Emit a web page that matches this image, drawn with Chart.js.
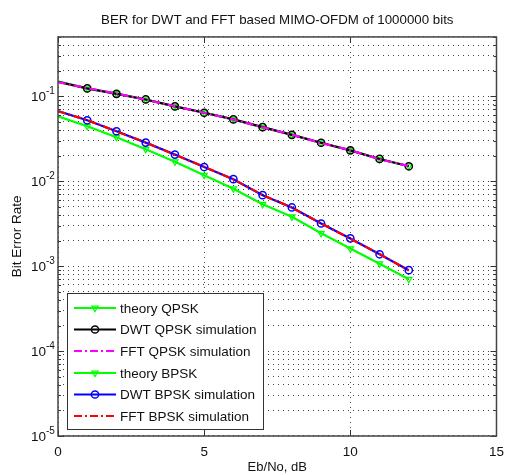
<!DOCTYPE html>
<html>
<head>
<meta charset="utf-8">
<script src="https://cdn.jsdelivr.net/npm/chart.js@4.4.0/dist/chart.umd.min.js"></script>
<style>
  body { margin: 0; background: #fff; }
  #wrap { width: 512px; height: 475px; }
</style>
</head>
<body>
<div id="wrap"><canvas id="berChart" width="512" height="475"></canvas></div>
<script>
// Eb/No points (dB) and BER values
let ebno = [0, 1, 2, 3, 4, 5, 6, 7, 8, 9, 10, 11, 12];
let theoryQpsk = [0.150, 0.123, 0.108, 0.0914, 0.0762, 0.0643, 0.0536, 0.0431, 0.0354, 0.0282, 0.0232, 0.0182, 0.0151];
let dwtQpsk = [0.148, 0.124, 0.107, 0.0918, 0.0760, 0.0640, 0.0535, 0.0433, 0.0352, 0.0284, 0.0231, 0.0183, 0.0150];
let fftQpsk = [0.147, 0.125, 0.108, 0.0912, 0.0765, 0.0641, 0.0533, 0.0430, 0.0355, 0.0281, 0.0233, 0.0181, 0.0151];
let theoryBpsk = [0.0582, 0.0444, 0.0330, 0.0238, 0.0170, 0.0118, 0.00817, 0.00536, 0.00382, 0.00244, 0.00161, 0.00107, 0.000703];
let dwtBpsk = [0.0672, 0.0522, 0.0388, 0.0285, 0.0206, 0.0147, 0.01057, 0.00685, 0.00491, 0.00318, 0.00212, 0.00138, 0.000897];
let fftBpsk = [0.0668, 0.0525, 0.0386, 0.0287, 0.0204, 0.0148, 0.0105, 0.0069, 0.00488, 0.0032, 0.0021, 0.00139, 0.00089];
let seriesNames = ["theory QPSK", "DWT QPSK simulation", "FFT QPSK simulation", "theory BPSK", "DWT BPSK simulation", "FFT BPSK simulation"];
let xTicks = [0, 5, 10, 15];
let yDecades = [-5, -4, -3, -2, -1];

let fontFamily = "'Liberation Sans', Arial, sans-serif";
let dashDot = [8, 3, 2, 3];

// no marker at 0 dB, markers from 1 dB on
function markerRadii(r) {
  return ebno.map((x) => (x === 0 ? 0 : r));
}

function makeSet(i, values, color, marker, dash) {
  return {
    label: seriesNames[i],
    data: ebno.map((x, k) => ({ x: x, y: values[k] })),
    borderColor: color,
    backgroundColor: color,
    borderWidth: 2.2,
    borderDash: dash || [],
    pointStyle: marker || "circle",
    pointRadius: marker ? markerRadii(marker === "triangle" ? 3.6 : 3.6) : 0,
    pointRotation: marker === "triangle" ? 180 : 0,
    pointBorderColor: color,
    pointBackgroundColor: "rgba(0,0,0,0)",
    pointBorderWidth: marker === "triangle" ? 1.2 : 1.5,
    order: 10 - i, // later series on top, like matlab
    hasMarker: !!marker,
  };
}

let datasets = [
  makeSet(0, theoryQpsk, "#00ff00", "triangle"),
  makeSet(1, dwtQpsk, "#000000", "circle"),
  makeSet(2, fftQpsk, "#ff00ff", null, dashDot),
  makeSet(3, theoryBpsk, "#00ff00", "triangle"),
  makeSet(4, dwtBpsk, "#0000ff", "circle"),
  makeSet(5, fftBpsk, "#ff0000", null, dashDot),
];

// frame, inside tick marks, 10^n labels and the boxed legend
let matlabFrame = {
  id: "matlabFrame",
  afterDraw(c) {
    let ctx = c.ctx;
    let a = c.chartArea;
    let xs = c.scales.x;
    let ys = c.scales.y;
    ctx.save();

    ctx.strokeStyle = "#333";
    ctx.lineWidth = 1;
    ys.ticks.forEach((t) => {
      let lg = Math.log10(t.value);
      let len = Math.abs(lg - Math.round(lg)) < 1e-6 ? 6 : 3;
      let y = Math.round(ys.getPixelForValue(t.value)) + 0.5;
      ctx.beginPath();
      ctx.moveTo(a.left, y);
      ctx.lineTo(a.left + len, y);
      ctx.moveTo(a.right, y);
      ctx.lineTo(a.right - len, y);
      ctx.stroke();
    });
    xTicks.forEach((v) => {
      let x = Math.round(xs.getPixelForValue(v)) + 0.5;
      ctx.beginPath();
      ctx.moveTo(x, a.bottom);
      ctx.lineTo(x, a.bottom - 6);
      ctx.moveTo(x, a.top);
      ctx.lineTo(x, a.top + 6);
      ctx.stroke();
    });
    ctx.strokeStyle = "#444";
    ctx.lineWidth = 1.5;
    ctx.strokeRect(a.left, a.top, a.right - a.left, a.bottom - a.top);

    // decade labels 10^-n
    ctx.fillStyle = "#111";
    ctx.textBaseline = "middle";
    yDecades.forEach((e) => {
      let y = ys.getPixelForValue(Math.pow(10, e));
      ctx.font = "13.5px " + fontFamily;
      ctx.textAlign = "right";
      ctx.fillText("10", 46, y + 1);
      ctx.font = "10px " + fontFamily;
      ctx.textAlign = "left";
      ctx.fillText(String(e), 46, y - 5);
    });

    // legend box
    let bx = 67, by = 293, bw = 196, bh = 136;
    ctx.fillStyle = "#fff";
    ctx.fillRect(bx, by, bw, bh);
    ctx.strokeStyle = "#333";
    ctx.lineWidth = 1;
    ctx.strokeRect(bx + 0.5, by + 0.5, bw, bh);
    let rows = [308, 329.5, 351, 373, 394.5, 416];
    c.data.datasets.forEach((ds, i) => {
      let y = rows[i];
      ctx.strokeStyle = ds.borderColor;
      ctx.lineWidth = ds.borderWidth;
      ctx.setLineDash(ds.borderDash);
      ctx.beginPath();
      ctx.moveTo(74, y);
      ctx.lineTo(116, y);
      ctx.stroke();
      ctx.setLineDash([]);
      if (ds.hasMarker) {
        ctx.lineWidth = ds.pointBorderWidth;
        ctx.fillStyle = "rgba(0,0,0,0)";
        Chart.helpers.drawPoint(ctx, {
          pointStyle: ds.pointStyle,
          radius: 3.6,
          rotation: ds.pointRotation,
          borderWidth: ds.pointBorderWidth,
        }, 95, y);
      }
      ctx.fillStyle = "#111";
      ctx.font = "13.5px " + fontFamily;
      ctx.textAlign = "left";
      ctx.textBaseline = "middle";
      ctx.fillText(ds.label, 120, y + 1);
    });
    ctx.restore();
  },
};

function allLogTicks() {
  let out = [];
  yDecades.forEach((e) => {
    for (let m = 1; m <= 9; m++) {
      let v = m * Math.pow(10, e);
      if (v <= 0.5 + 1e-12) out.push({ value: v, major: m === 1 });
    }
  });
  return out;
}

new Chart(document.getElementById("berChart"), {
  type: "line",
  data: { datasets: datasets },
  options: {
    responsive: false,
    animation: false,
    devicePixelRatio: 1,
    layout: { padding: { left: 0, right: 8, top: 0, bottom: 0 } },
    plugins: {
      legend: { display: false },
      tooltip: { enabled: false },
      title: {
        display: true,
        text: "BER for DWT and FFT based MIMO-OFDM of 1000000 bits",
        fullSize: false,
        color: "#111",
        font: { family: fontFamily, size: 13.3, weight: "normal" },
        padding: { top: 12, bottom: 9 },
      },
    },
    scales: {
      x: {
        type: "linear",
        min: 0,
        max: 15,
        afterBuildTicks: (s) => {
          s.ticks = xTicks.map((v) => ({ value: v }));
        },
        afterFit: (s) => {
          s.height = 39;
        },
        grid: { color: "#444", lineWidth: 1, drawTicks: false },
        border: { display: false, dash: [1, 4] },
        ticks: {
          color: "#111",
          padding: 8,
          font: { family: fontFamily, size: 13.5 },
        },
        title: {
          display: true,
          text: "Eb/No, dB",
          color: "#111",
          font: { family: fontFamily, size: 13 },
          padding: { top: 0, bottom: 0 },
        },
      },
      y: {
        type: "logarithmic",
        min: 1e-5,
        max: 0.5,
        afterBuildTicks: (s) => {
          s.ticks = allLogTicks();
        },
        afterFit: (s) => {
          s.width = 58;
        },
        grid: { color: "#444", lineWidth: 1, drawTicks: false },
        border: { display: false, dash: [1, 4] },
        ticks: { display: false, autoSkip: false },
        title: {
          display: true,
          text: "Bit Error Rate",
          color: "#111",
          font: { family: fontFamily, size: 13.5 },
          padding: { top: 9, bottom: 0 },
        },
      },
    },
  },
  plugins: [matlabFrame],
});
</script>
</body>
</html>
